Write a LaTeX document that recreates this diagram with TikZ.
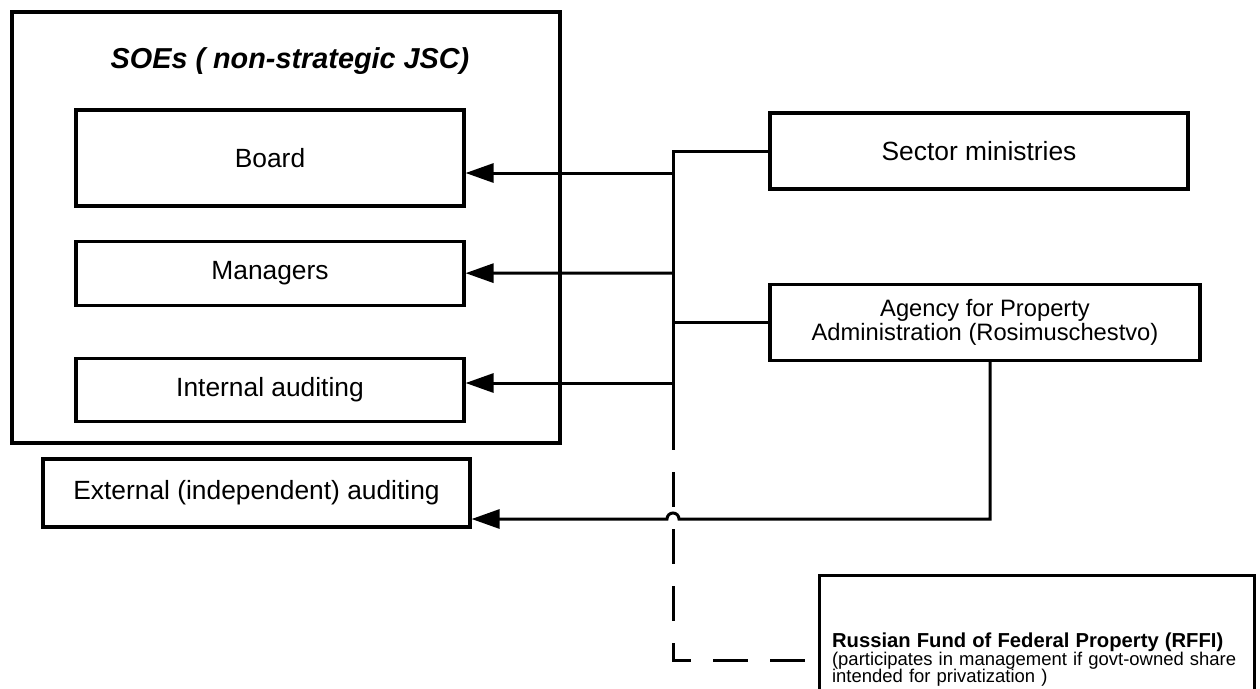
\documentclass[tikz,border=0pt]{standalone}
\usepackage{fontspec}
\setmainfont{Liberation Sans}
\usetikzlibrary{arrows.meta}
\usetikzlibrary{positioning}

\begin{document}
\begin{tikzpicture}[internal/.style={draw, rectangle, line width=1.8pt, inner sep=4pt, align=center, font=\fontsize{15}{17}\selectfont},
				conn/.style={line width=1.7pt},
				arr/.style={conn, -{Triangle[length=0.56cm, width=0.38cm]}}]
	\useasboundingbox (0,0) rectangle (25.2,-13.76);
	\node[internal, minimum width=10.96cm, minimum height=8.62cm](soe) at (5.72,-4.55) {};
	\node[font=\fontsize{16.4}{18}\selectfont\bfseries\itshape](title) at (5.8,-1.22) {SOEs ( non-strategic JSC)};
	
	\node[internal, minimum width=7.76cm, minimum height=1.92cm](board) at (5.4,-3.16) {Board};
	\node[internal, minimum width=7.76cm, minimum height=1.28cm, below=0.64cm of board](mgrs) {Managers};
	\node[internal, minimum width=7.76cm, minimum height=1.26cm, below=1.0cm of mgrs](intaud) {Internal auditing};
	\node[internal, minimum width=8.54cm, minimum height=1.36cm](extaud) at (5.13,-9.86) {External (independent) auditing};
	
	\node[internal, minimum width=8.36cm, minimum height=1.52cm](sector) at (19.58,-3.02) {Sector ministries};
	\node[internal, minimum width=8.6cm, minimum height=1.52cm, below=1.84cm of sector.south west, anchor=north west, font=\fontsize{13.5}{11.2}\selectfont](agency) {Agency for Property\\Administration (Rosimuschestvo)};
	\node[internal, minimum width=8.7cm, minimum height=3.36cm, text width=8.2cm, align=left, anchor=north west, font=\fontsize{10.5}{10}\selectfont](rffi) at (16.36,-11.48) {\textbf{\fontsize{11.5}{10}\selectfont Russian Fund of Federal Property (RFFI)}\\(participates in management if govt-owned share\\intended for privatization )};
	
	\coordinate (jbot) at (13.46,-8.3);
	\coordinate (jdash) at (13.46,-13.2);
	\coordinate (bj) at (13.46,-3.46);
	\coordinate (mj) at (13.46,-5.46);
	\coordinate (ij) at (13.46,-7.66);
	\coordinate (ej) at (19.8,-10.38);
	\coordinate (hop) at (13.58,-10.38);
	
	\draw[conn] (sector.west) -| (jbot);
	\draw[conn] (agency.west) -- (agency.west -| jbot);
	\draw[arr] (bj) -- (bj -| board.east);
	\draw[arr] (mj) -- (mgrs.east);
	\draw[arr] (ij) -- (ij -| intaud.east);
	\draw[conn, dash pattern=on 0.7cm off 0.44cm] (jbot) -- (jdash) -- (jdash -| rffi.west);
	\draw[arr] (ej |- agency.south) -- (ej) -- (hop) arc (0:180:0.12) -- (hop -| extaud.east);
\end{tikzpicture}
\end{document}
